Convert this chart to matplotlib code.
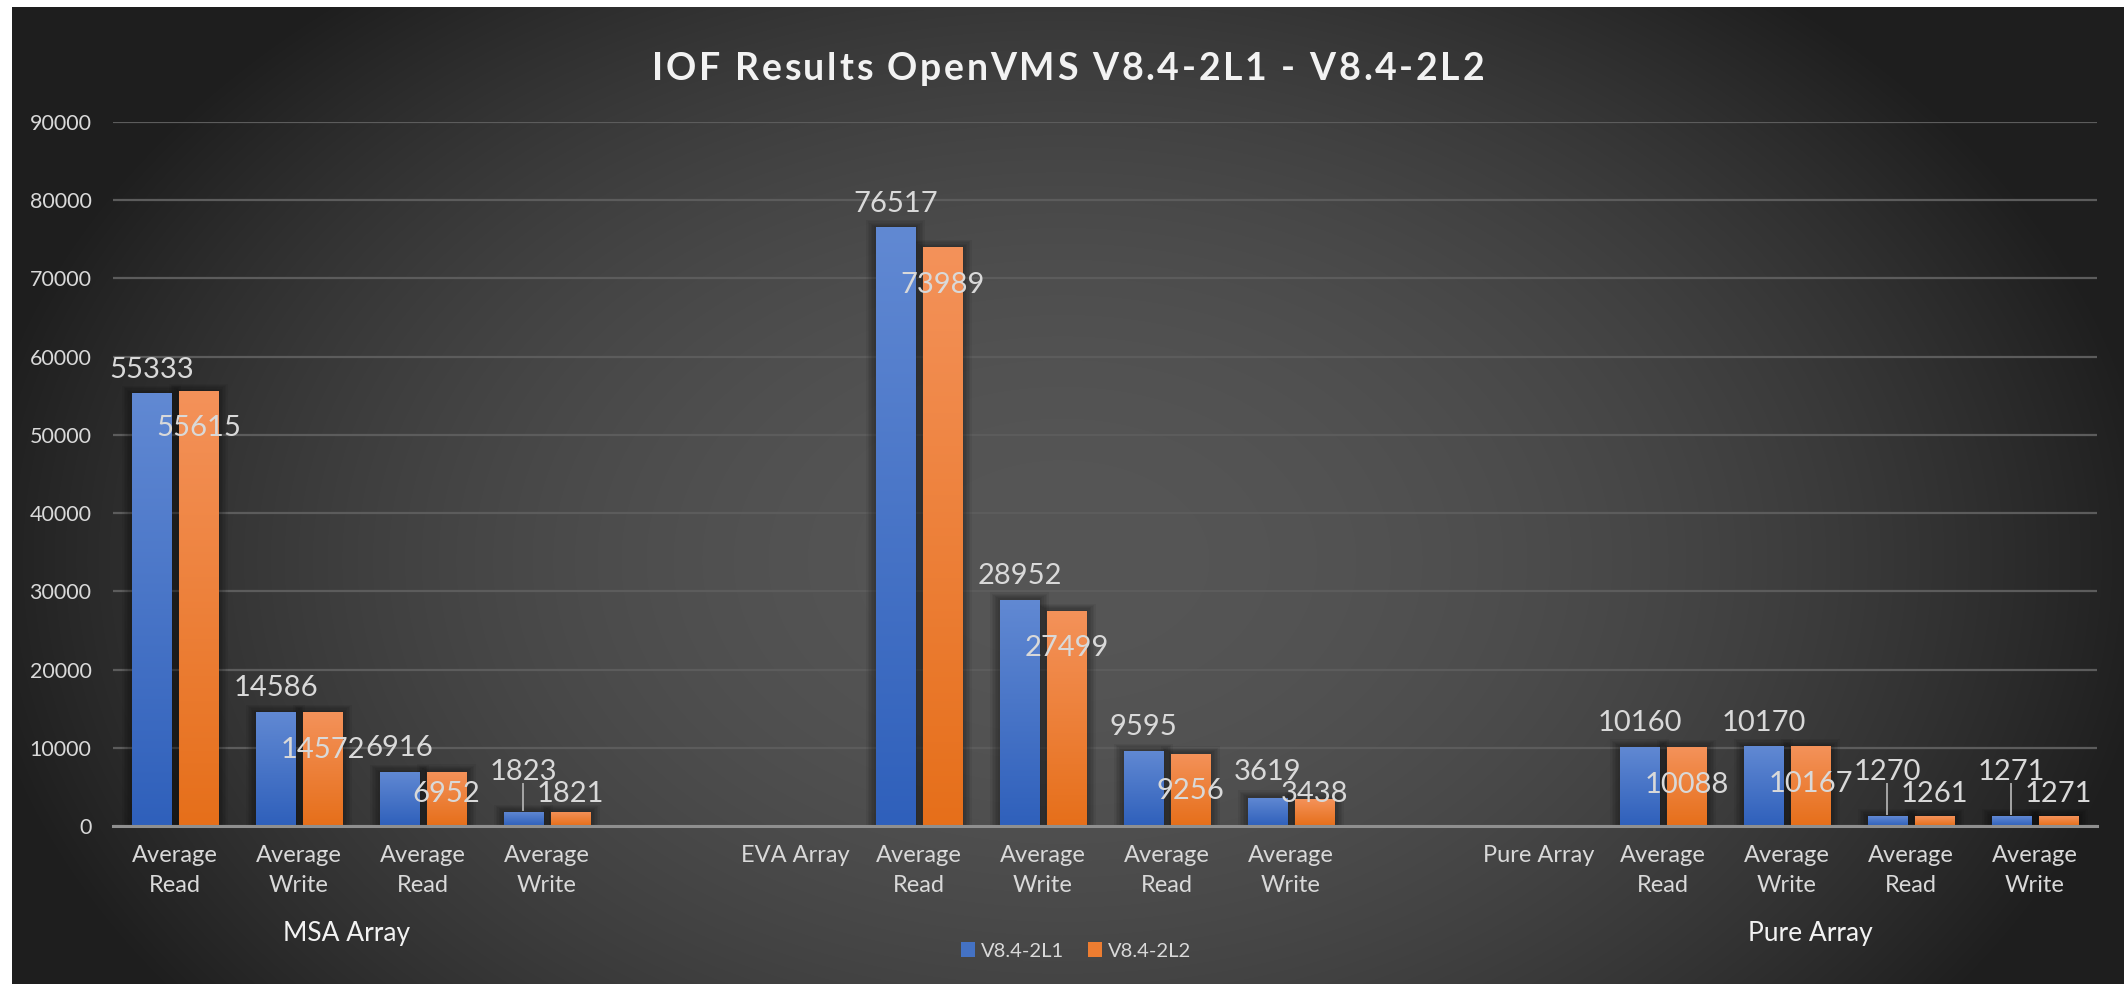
import numpy as np
import matplotlib
matplotlib.use("Agg")
import matplotlib.pyplot as plt
import matplotlib.transforms as mtransforms
from matplotlib.colors import LinearSegmentedColormap
from matplotlib.patches import Rectangle
from matplotlib.lines import Line2D
from matplotlib.font_manager import FontProperties, findfont, get_font

plt.rcParams['font.family'] = ['Lato', 'DejaVu Sans']

# ---------------- data ----------------
title = "IOF Results OpenVMS V8.4-2L1 - V8.4-2L2"
series_names = ["V8.4-2L1", "V8.4-2L2"]
categories = ["Average\nRead", "Average\nWrite", "Average\nRead", "Average\nWrite", "",
              "EVA Array", "Average\nRead", "Average\nWrite", "Average\nRead", "Average\nWrite", "",
              "Pure Array", "Average\nRead", "Average\nWrite", "Average\nRead", "Average\nWrite"]
l1_values = [55333, 14586, 6916, 1823, None, None, 76517, 28952, 9595, 3619, None, None,
             10160, 10170, 1270, 1271]
l2_values = [55615, 14572, 6952, 1821, None, None, 73989, 27499, 9256, 3438, None, None,
             10088, 10167, 1261, 1271]
group_labels = ["MSA Array", "Pure Array"]
y_ticks = [0, 10000, 20000, 30000, 40000, 50000, 60000, 70000, 80000, 90000]

# ---------------- layout ----------------
W, H = 2124, 984
DPI = 100
group_label_x = [1.38, 13.19]
TEXT = '#d9d9d9'
WHITE = '#f2f2f2'

fig = plt.figure(figsize=(W / DPI, H / DPI), dpi=DPI, facecolor='white')

# background radial gradient
bg = fig.add_axes([12 / W, 0, 1 - 12 / W, 1 - 7 / H])
bg.set_axis_off()
bw_px, bh_px = W - 12, H - 7
yy, xx = np.mgrid[0:bh_px, 0:bw_px]
cx, cy = 1062 - 12, 560 - 7
r2 = ((xx - cx) / 1100.0) ** 2 + ((yy - cy) / 750.0) ** 2
v = (86 - 56 * np.clip(r2, 0, 1)) / 255.0
bg.imshow(np.dstack([v, v, v]), extent=[0, 1, 0, 1], aspect='auto', origin='upper',
          interpolation='bilinear')
bg.set_xlim(0, 1)
bg.set_ylim(0, 1)

ax = fig.add_axes([113 / W, 1 - 826 / H, 1984 / W, 704 / H])
ax.patch.set_alpha(0)

x = np.arange(len(categories))
off, bwid = 0.19, 0.32
v1 = np.array([np.nan if q is None else q for q in l1_values], float)
v2 = np.array([np.nan if q is None else q for q in l2_values], float)

b1 = ax.bar(x - off, v1, bwid, color='#4472c4', zorder=3, label=series_names[0], linewidth=0)
b2 = ax.bar(x + off, v2, bwid, color='#ed7d31', zorder=3, label=series_names[1], linewidth=0)

ax.set_xlim(-0.5, len(categories) - 0.5)
ax.set_ylim(0, 90000)

px_x = (len(categories)) / 1984.0
px_y = 90000 / 704.0

cmap_b = LinearSegmentedColormap.from_list('b', ['#6189d3', '#2f60bb'])
cmap_o = LinearSegmentedColormap.from_list('o', ['#f4925a', '#e66f1a'])
grad = np.linspace(0, 1, 256).reshape(-1, 1)

for cont, cmap in ((b1, cmap_b), (b2, cmap_o)):
    for p in cont.patches:
        h = p.get_height()
        if not np.isfinite(h):
            continue
        x0, w = p.get_x(), p.get_width()
        # soft shadow
        for k in range(1, 7):
            ax.add_patch(Rectangle((x0 - k * 1.6 * px_x, 0), w + 2 * k * 1.6 * px_x,
                                   h + k * 1.2 * px_y, facecolor='black', alpha=0.06,
                                   linewidth=0, zorder=2))
        im = ax.imshow(grad, cmap=cmap, extent=[x0, x0 + w, 0, h], aspect='auto',
                       origin='upper', zorder=3.5)
        im.set_clip_path(p)

ax.set_xlim(-0.5, len(categories) - 0.5)
ax.set_ylim(0, 90000)

# axes styling
for s in ['top', 'right', 'left']:
    ax.spines[s].set_visible(False)
ax.spines['bottom'].set_color('#8f8f8f')
ax.spines['bottom'].set_linewidth(2.2)
ax.spines['bottom'].set_zorder(4)
ax.set_axisbelow(True)
ax.yaxis.grid(True, color='#5c5c5c', linewidth=1.6)
ax.set_yticks(y_ticks)
ax.set_yticklabels([str(t) for t in y_ticks])
ax.tick_params(axis='y', length=0, pad=15.5, labelsize=15.5, labelcolor=TEXT)
ax.set_xticks(x)
ax.set_xticklabels(categories, linespacing=1.5)
ax.tick_params(axis='x', length=0, pad=14, labelsize=17, labelcolor=TEXT)

# data labels
fig.canvas.draw()
trans = ax.transData
inv = trans.inverted()
cap = 10.5  # half digit height in px
for xs, vals, is_l1 in ((x - off, v1, True), (x + off, v2, False)):
    for xi, val in zip(xs, vals):
        if not np.isfinite(val):
            continue
        top = trans.transform((xi, val))[1]
        base = trans.transform((xi, 0))[1]
        if is_l1:
            c = max(top + 26, base + 56)
        else:
            c = max(top - 35, base + 34)
        ly = inv.transform((0, c - cap))[1]
        ax.text(xi, ly, f"{val:.0f}", ha='center', va='baseline', fontsize=21,
                color=TEXT, zorder=6)
        if is_l1 and c - top > 35:
            y_a = inv.transform((0, top + 2))[1]
            y_b = inv.transform((0, c - 14))[1]
            ax.add_line(Line2D([xi, xi], [y_a, y_b], color='#a6a6a6', lw=1.4, zorder=6))

# second-level category labels
blend = mtransforms.blended_transform_factory(ax.transData, fig.transFigure)
for gx, gl in zip(group_label_x, group_labels):
    ax.text(gx, 1 - 941 / H, gl, transform=blend, ha='center', va='baseline',
            fontsize=19, color=WHITE, clip_on=False)

# title (letter-spaced, drawn glyph by glyph)
title_size = 27
spacing_px = 2.7
fp = FontProperties(family='Lato', weight='bold', size=title_size)
font = get_font(findfont(fp))
font.set_size(title_size, DPI)
advs = []
for ch in title:
    g = font.load_char(ord(ch))
    advs.append(g.linearHoriAdvance / 65536.0)
total = sum(advs) + spacing_px * (len(title) - 1)
pen = 1068 - total / 2.0
ty = 1 - 66 / H
for ch, a in zip(title, advs):
    if ch != ' ':
        fig.text((pen + a / 2.0) / W, ty, ch, ha='center', va='center_baseline',
                 fontproperties=fp, color=WHITE)
    pen += a + spacing_px

# legend
fig.legend(handles=[b1, b2], labels=series_names, loc='center',
           bbox_to_anchor=(1076 / W, 1 - 951 / H), ncol=2, frameon=False,
           fontsize=14.5, labelcolor=TEXT, handlelength=0.7, handleheight=0.7,
           handletextpad=0.3, columnspacing=1.15)

fig.savefig('out.png', dpi=DPI, facecolor=fig.get_facecolor())
